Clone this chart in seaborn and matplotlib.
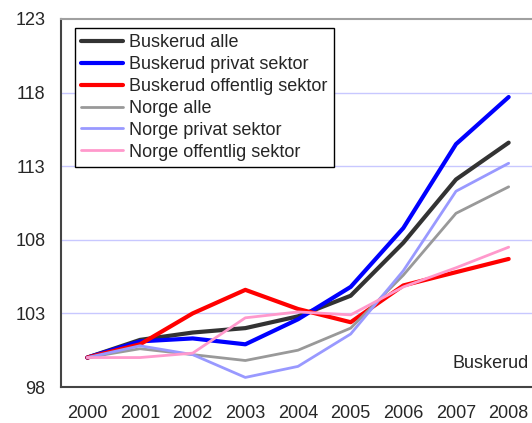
import matplotlib
matplotlib.use("Agg")
import matplotlib.pyplot as plt
import seaborn as sns

years = ["2000", "2001", "2002", "2003", "2004", "2005", "2006", "2007", "2008"]
buskerud_alle = [100.0, 101.2, 101.7, 102.0, 102.8, 104.2, 107.8, 112.1, 114.6]
buskerud_privat = [100.0, 101.1, 101.3, 100.9, 102.6, 104.8, 108.8, 114.5, 117.7]
buskerud_offentlig = [100.0, 100.9, 103.0, 104.6, 103.3, 102.4, 104.9, 105.8, 106.7]
norge_alle = [100.0, 100.6, 100.2, 99.8, 100.5, 102.0, 105.6, 109.8, 111.6]
norge_privat = [100.0, 100.8, 100.2, 98.65, 99.4, 101.6, 105.9, 111.3, 113.2]
norge_offentlig = [100.0, 100.0, 100.3, 102.7, 103.1, 102.9, 104.8, 106.1, 107.5]

series = [
    ("Buskerud alle", buskerud_alle, "#333333", 3.0),
    ("Buskerud privat sektor", buskerud_privat, "#0000ff", 3.0),
    ("Buskerud offentlig sektor", buskerud_offentlig, "#ff0000", 3.0),
    ("Norge alle", norge_alle, "#999999", 2.0),
    ("Norge privat sektor", norge_privat, "#9999ff", 2.0),
    ("Norge offentlig sektor", norge_offentlig, "#ff99cc", 2.0),
]

sns.set_style("white")
plt.rcParams['font.family'] = ['Liberation Sans', 'DejaVu Sans']

fig = plt.figure(figsize=(5.32, 4.23), dpi=100)
ax = fig.add_axes([61 / 532, 36 / 423, 474 / 532, 368 / 423])

pos = list(range(len(years)))
for label, vals, color, lw in series:
    sns.lineplot(x=pos, y=vals, color=color, linewidth=lw, label=label, ax=ax)

ax.set_xlim(-0.5, 8.5)
ax.set_ylim(98, 123)
ax.set_yticks([98, 103, 108, 113, 118, 123])
for y in [103, 108, 113, 118]:
    ax.axhline(y, color="#c8c8ff", linewidth=1, zorder=0)

ax.set_xticks(pos)
ax.set_xticklabels(years)
ax.set_xticks([p - 0.5 for p in pos], minor=True)
ax.tick_params(axis="x", which="major", length=0, pad=13, labelsize=13)
ax.tick_params(axis="x", which="minor", length=5, width=1, color="#333333", direction="out")
ax.tick_params(axis="y", length=5, width=1, color="#333333", direction="out", labelsize=13, pad=6)

for side in ["left", "bottom"]:
    ax.spines[side].set_color("#444444")
    ax.spines[side].set_linewidth(1.5)
ax.spines["top"].set_color("#a0a0a0")
ax.spines["top"].set_linewidth(1.5)
ax.spines["right"].set_visible(False)
ax.set_xlabel("")
ax.set_ylabel("")

leg = ax.legend(loc="upper left", bbox_to_anchor=(14 / 474, 1 - 9 / 368), borderaxespad=0,
                fontsize=13, handlelength=2.3, labelspacing=0.27, frameon=True, fancybox=False,
                edgecolor="black", borderpad=0.35, handletextpad=0.35)
leg.get_frame().set_linewidth(1)
leg.get_frame().set_alpha(1)

fig.text(529 / 532, (423 - 363) / 423, "Buskerud", ha="right", va="center", fontsize=13)

fig.savefig("out.png", dpi=100)
